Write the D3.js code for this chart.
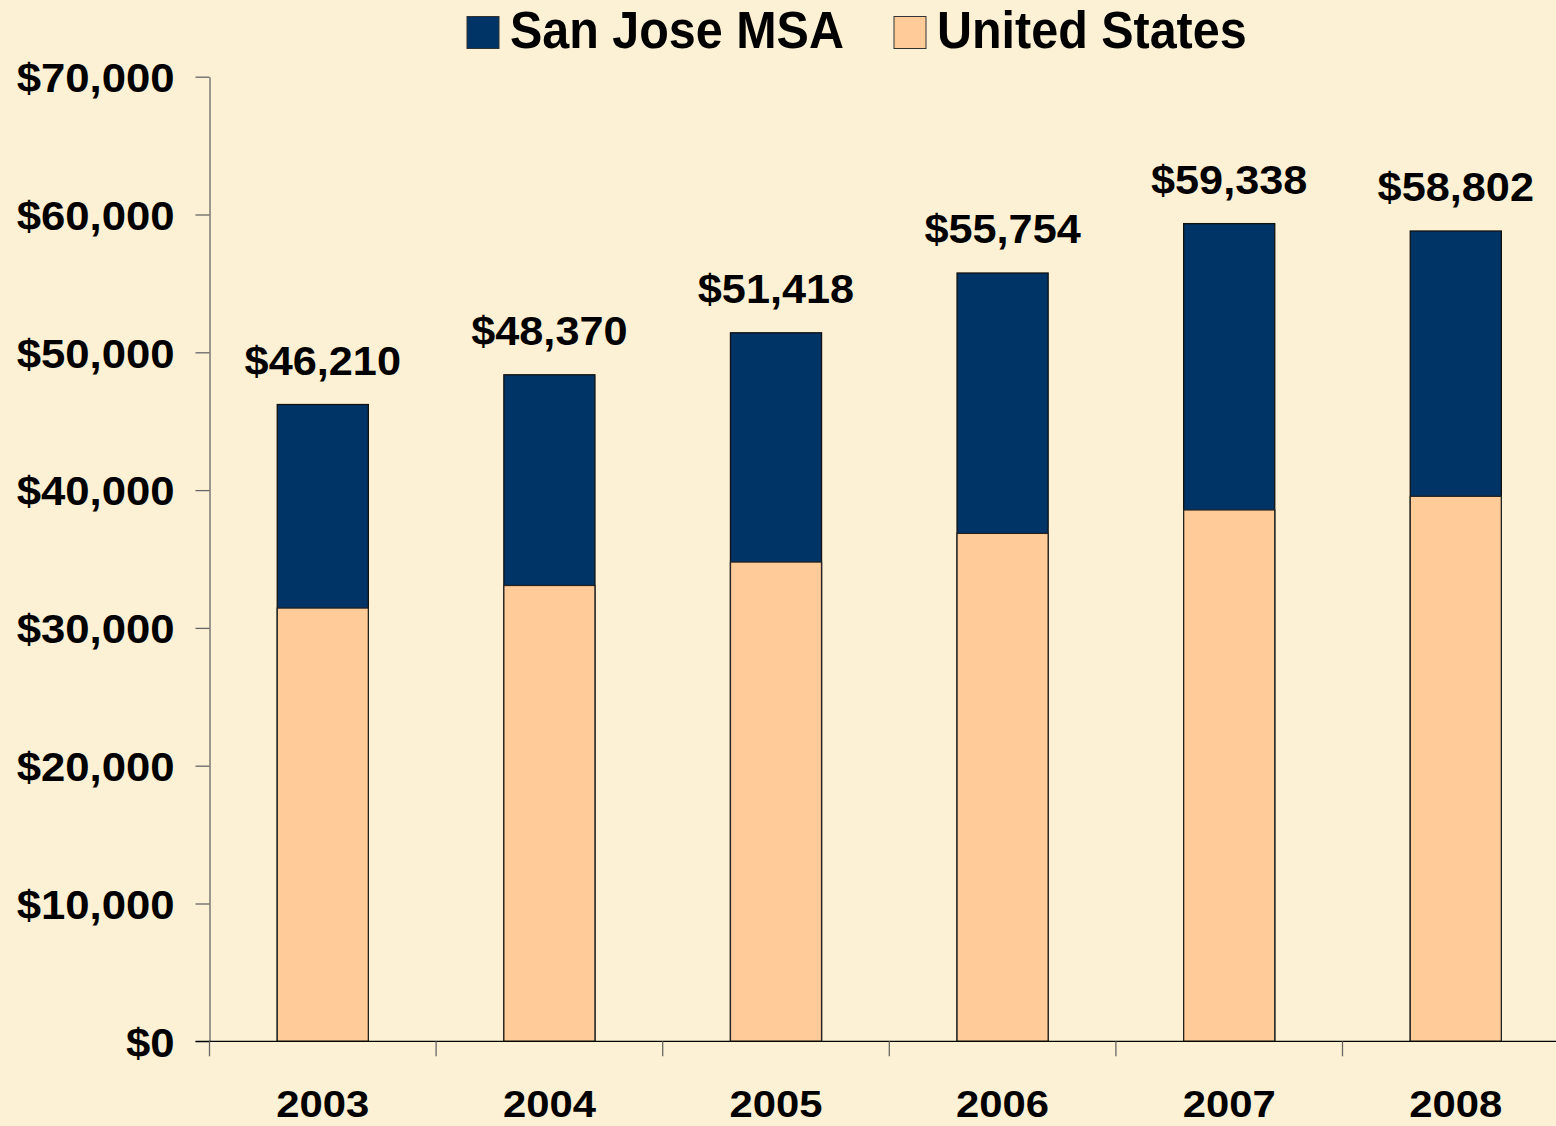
<!DOCTYPE html>
<html>
<head>
<meta charset="utf-8">
<script src="https://cdn.jsdelivr.net/npm/d3@7"></script>
<style>
  html, body { margin: 0; padding: 0; background: #FCF1D4; overflow: hidden; }
  svg { display: block; }
  text { font-family: "Liberation Sans", Arial, sans-serif; font-weight: bold; fill: #000; }
</style>
</head>
<body>
<script>
const years = ["2003", "2004", "2005", "2006", "2007", "2008"];
const sanJose = [46210, 48370, 51418, 55754, 59338, 58802];
const unitedStates = [31440, 33080, 34780, 36860, 38560, 39550];
const yTicks = [0, 10000, 20000, 30000, 40000, 50000, 60000, 70000];
const seriesNames = ["San Jose MSA", "United States"];
const seriesColors = ["#003366", "#FFCC99"];

const W = 1556, H = 1126;
const svg = d3.select("body").append("svg").attr("width", W).attr("height", H);
svg.append("rect").attr("width", W).attr("height", H).attr("fill", "#FCF1D4");

// stretch text horizontally by a factor (keeps anchor)
function stretch(sel, factor) {
  sel.each(function () {
    const w = this.getComputedTextLength();
    d3.select(this).attr("textLength", w * factor).attr("lengthAdjust", "spacingAndGlyphs");
  });
}

const x0 = 209.5, step = 226.6;
const x = d3.scaleBand().domain(years)
  .range([x0, x0 + step * years.length])
  .paddingInner(0.598).paddingOuter(0.299);
const y = d3.scaleLinear().domain([0, 70000]).range([1041.3, 76.7]);

const fmt = v => "$" + d3.format(",")(v);

// Y axis
const yAxis = svg.append("g").attr("transform", `translate(${x0},0)`)
  .call(d3.axisLeft(y).tickValues(yTicks).tickFormat(fmt).tickSize(14).tickPadding(21).tickSizeOuter(0));
yAxis.select(".domain").attr("stroke", "#666").attr("stroke-width", 1.3);
yAxis.selectAll(".tick line").attr("stroke", "#666").attr("stroke-width", 1.3);
yAxis.selectAll(".tick text").attr("font-size", 41).attr("dy", "0.36em")
  .style("font-family", '"Liberation Sans", Arial, sans-serif').style("font-weight", "bold").attr("fill", "#000")
  .call(stretch, 1.065);

// Bars: San Jose (total) behind, United States in front
const gBars = svg.append("g");
gBars.selectAll("rect.sj").data(years).join("rect").attr("class", "sj")
  .attr("x", d => x(d)).attr("width", x.bandwidth())
  .attr("y", (d, i) => y(sanJose[i])).attr("height", (d, i) => y(0) - y(sanJose[i]))
  .attr("fill", seriesColors[0]).attr("stroke", "#111").attr("stroke-width", 1.3);
gBars.selectAll("rect.us").data(years).join("rect").attr("class", "us")
  .attr("x", d => x(d)).attr("width", x.bandwidth())
  .attr("y", (d, i) => y(unitedStates[i])).attr("height", (d, i) => y(0) - y(unitedStates[i]))
  .attr("fill", seriesColors[1]).attr("stroke", "#222").attr("stroke-width", 1.3);

// Value labels
svg.append("g").selectAll("text").data(years).join("text")
  .attr("x", d => x(d) + x.bandwidth() / 2)
  .attr("y", (d, i) => y(sanJose[i]) - 30)
  .attr("text-anchor", "middle").attr("font-size", 41)
  .text((d, i) => fmt(sanJose[i]))
  .call(stretch, 1.055);

// X axis
const xAxis = svg.append("g").attr("transform", `translate(0,${y(0)})`)
  .call(d3.axisBottom(x).tickSize(0).tickPadding(76).tickSizeOuter(0));
xAxis.select(".domain").attr("stroke", "#000").attr("stroke-width", 1.3);
xAxis.selectAll(".tick text").attr("font-size", 37).attr("dy", "0")
  .style("font-family", '"Liberation Sans", Arial, sans-serif').style("font-weight", "bold").attr("fill", "#000")
  .call(stretch, 1.13);
// boundary ticks
const bounds = d3.range(years.length + 1).map(i => x0 + i * step);
xAxis.selectAll("line.bt").data(bounds).join("line").attr("class", "bt")
  .attr("x1", d => d).attr("x2", d => d).attr("y1", 0).attr("y2", 15)
  .attr("stroke", "#666").attr("stroke-width", 1.3);
xAxis.select(".domain").attr("d", `M${x0 - 14},0H${W + 20}`);

// Legend
const legend = svg.append("g");
const legendItems = [
  { name: seriesNames[0], color: seriesColors[0], sx: 467, tx: 510 },
  { name: seriesNames[1], color: seriesColors[1], sx: 894, tx: 937 }
];
legendItems.forEach(it => {
  legend.append("rect").attr("x", it.sx).attr("y", 16.5).attr("width", 32).attr("height", 32)
    .attr("fill", it.color).attr("stroke", "#333").attr("stroke-width", 1);
  legend.append("text").attr("x", it.tx).attr("y", 48).attr("font-size", 51).text(it.name)
    .call(stretch, 0.95);
});
</script>
</body>
</html>
